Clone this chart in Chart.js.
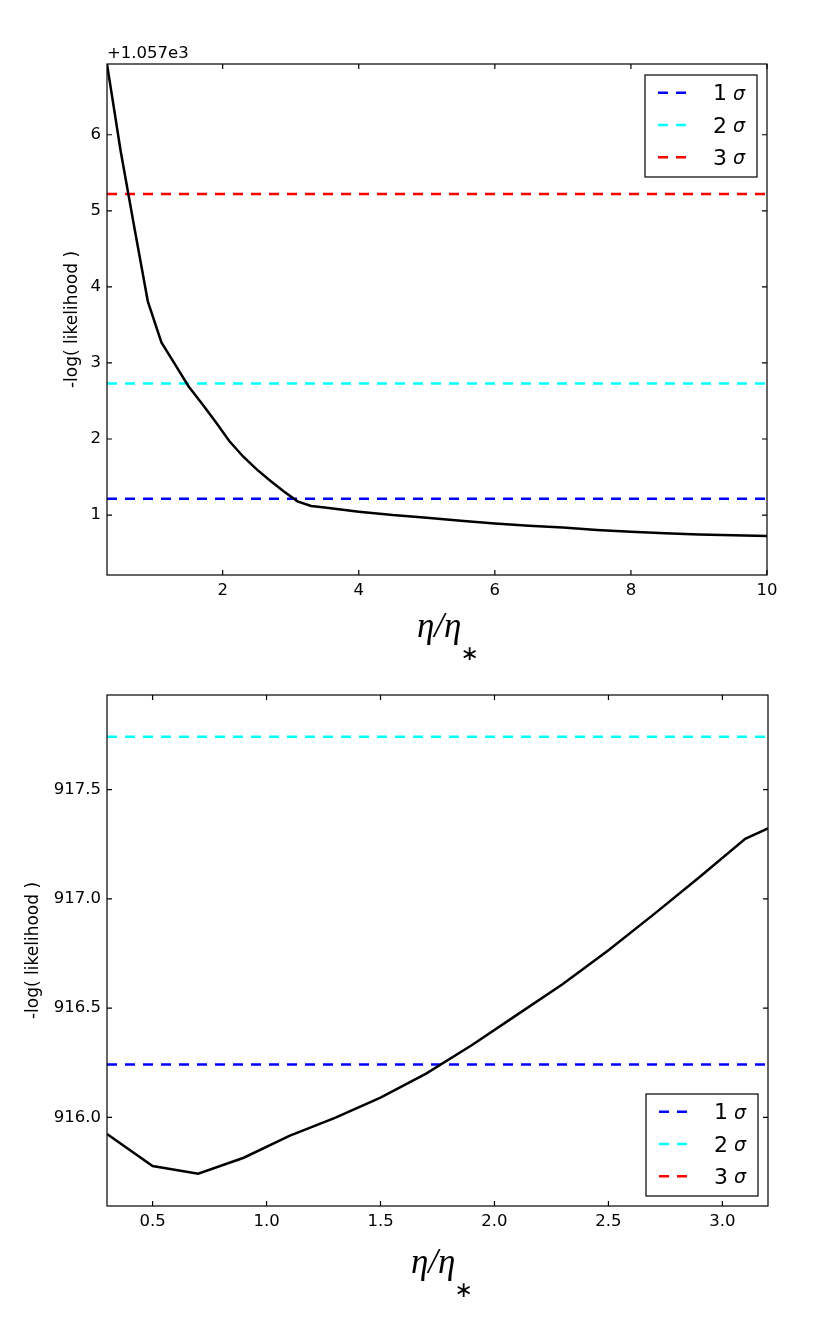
<!DOCTYPE html>
<html>
<head>
<meta charset="utf-8">
<script src="https://cdn.jsdelivr.net/npm/chart.js@4.4.0/dist/chart.umd.min.js"></script>
<style>
  html, body { margin: 0; padding: 0; background: #fff; }
  .wrap { position: absolute; left: 0; width: 830px; height: 660px; }
</style>
</head>
<body>
<div class="wrap" style="top:0px"><canvas id="c1"></canvas></div>
<div class="wrap" style="top:660px"><canvas id="c2"></canvas></div>
<script>
// ---------- data ----------
const topX = [0.3, 0.5, 0.7, 0.9, 1.1, 1.3, 1.5, 1.7, 1.9, 2.1, 2.3, 2.5, 2.7, 2.9, 3.1, 3.3, 3.5, 4.0, 4.5, 5.0, 5.5, 6.0, 6.5, 7.0, 7.5, 8.0, 8.5, 9.0, 9.5, 10.0];
const topY = [6.93, 5.79, 4.79, 3.81, 3.27, 2.98, 2.69, 2.46, 2.22, 1.97, 1.77, 1.60, 1.45, 1.31, 1.18, 1.12, 1.10, 1.045, 1.00, 0.965, 0.925, 0.89, 0.86, 0.835, 0.805, 0.78, 0.76, 0.745, 0.733, 0.725];
const topSigma = [1.215, 2.73, 5.22];
const topXTicks = [2, 4, 6, 8, 10];
const topYTicks = [1, 2, 3, 4, 5, 6];
const topXRange = [0.3, 10];
const topYRange = [0.212, 6.93];
const topOffsetText = '+1.057e3';

const botX = [0.3, 0.5, 0.7, 0.9, 1.1, 1.3, 1.5, 1.7, 1.9, 2.1, 2.3, 2.5, 2.7, 2.9, 3.1, 3.2];
const botY = [915.924, 915.777, 915.742, 915.815, 915.915, 915.997, 916.09, 916.20, 916.33, 916.47, 916.61, 916.765, 916.93, 917.10, 917.275, 917.322];
const botSigma = [916.242, 917.742, 920.242];
const botXTicks = [0.5, 1.0, 1.5, 2.0, 2.5, 3.0];
const botYTicks = [916.0, 916.5, 917.0, 917.5];
const botXRange = [0.3, 3.2];
const botYRange = [915.594, 917.933];

const sigmaNames = ['1', '2', '3'];
const sigmaColors = ['#0000ff', '#00ffff', '#ff0000'];
const yTitle = '-log( likelihood )';

// ---------- drawing ----------
const TICK_FONT = { family: 'DejaVu Sans', size: 16.5 };

function makeDecor(cfg) {
  return {
    id: 'decor',
    afterDatasetsDraw(chart) {
      const { ctx, chartArea: a, scales } = chart;
      const x = scales.x, y = scales.y;
      ctx.save();
      // frame
      ctx.strokeStyle = '#000';
      ctx.lineWidth = 1.2;
      ctx.strokeRect(a.left, a.top, a.right - a.left, a.bottom - a.top);
      // inward ticks on all four sides
      ctx.beginPath();
      cfg.xTicks.forEach(v => {
        const px = x.getPixelForValue(v);
        ctx.moveTo(px, a.bottom); ctx.lineTo(px, a.bottom - 5);
        ctx.moveTo(px, a.top); ctx.lineTo(px, a.top + 5);
      });
      cfg.yTicks.forEach(v => {
        const py = y.getPixelForValue(v);
        ctx.moveTo(a.left, py); ctx.lineTo(a.left + 5, py);
        ctx.moveTo(a.right, py); ctx.lineTo(a.right - 5, py);
      });
      ctx.stroke();

      // legend
      const bw = 112, bh = 102;
      const bx = a.right - 10 - bw;
      const by = cfg.legendTop ? a.top + 11 : a.bottom - 10 - bh;
      ctx.fillStyle = '#fff';
      ctx.fillRect(bx, by, bw, bh);
      ctx.strokeStyle = '#000';
      ctx.lineWidth = 1.2;
      ctx.strokeRect(bx, by, bw, bh);
      sigmaNames.forEach((name, i) => {
        const ry = by + 17.7 + i * 32.3;
        ctx.save();
        ctx.strokeStyle = sigmaColors[i];
        ctx.lineWidth = 2.5;
        ctx.setLineDash([10, 8]);
        ctx.beginPath();
        ctx.moveTo(bx + 13, ry); ctx.lineTo(bx + 41, ry);
        ctx.stroke();
        ctx.restore();
        ctx.fillStyle = '#000';
        ctx.textBaseline = 'alphabetic';
        ctx.textAlign = 'left';
        ctx.font = '22px "DejaVu Sans"';
        ctx.fillText(name, bx + 68, ry + 7.5);
        ctx.font = 'italic 19px "DejaVu Sans"';
        ctx.fillText('σ', bx + 88, ry + 7);
      });

      // y title
      ctx.save();
      ctx.fillStyle = '#000';
      ctx.font = '17px "DejaVu Sans"';
      ctx.textAlign = 'center';
      ctx.textBaseline = 'middle';
      ctx.translate(cfg.yTitleX, (a.top + a.bottom) / 2);
      ctx.rotate(-Math.PI / 2);
      ctx.fillText(yTitle, 0, 0);
      ctx.restore();

      // x title  η/η∗
      ctx.fillStyle = '#000';
      ctx.textAlign = 'left';
      ctx.textBaseline = 'alphabetic';
      ctx.font = 'italic 35px "Liberation Serif"';
      const base = a.bottom + cfg.xTitleGap;
      ctx.fillText('η/η', cfg.xTitleLeft, base);
      const w = ctx.measureText('η/η').width;
      ctx.font = '22px "DejaVu Sans"';
      ctx.textBaseline = 'middle';
      ctx.fillText('∗', cfg.xTitleLeft + w - 1, base + 18);

      // offset text
      if (cfg.offsetText) {
        ctx.font = '16.5px "DejaVu Sans"';
        ctx.textBaseline = 'alphabetic';
        ctx.textAlign = 'left';
        ctx.fillText(cfg.offsetText, a.left, a.top - 6);
      }
      ctx.restore();
    }
  };
}

function makeChart(id, cfg) {
  const pts = cfg.xs.map((v, i) => ({ x: v, y: cfg.ys[i] }));
  const datasets = [{
    data: pts, borderColor: '#000', borderWidth: 2.5, pointRadius: 0,
    tension: 0, fill: false
  }];
  cfg.sigma.forEach((s, i) => {
    datasets.push({
      data: [{ x: cfg.xRange[0], y: s }, { x: cfg.xRange[1], y: s }],
      borderColor: sigmaColors[i], borderWidth: 2.5, borderDash: [10, 8],
      pointRadius: 0, fill: false
    });
  });
  new Chart(document.getElementById(id), {
    type: 'line',
    data: { datasets },
    options: {
      responsive: true,
      maintainAspectRatio: false,
      animation: false,
      events: [],
      layout: { padding: { top: cfg.padTop, right: cfg.padRight, left: 0, bottom: 0 } },
      plugins: { legend: { display: false }, tooltip: { enabled: false } },
      scales: {
        x: {
          type: 'linear', min: cfg.xRange[0], max: cfg.xRange[1],
          afterBuildTicks: s => { s.ticks = cfg.xTicks.map(v => ({ value: v })); },
          afterFit: s => { s.height = cfg.xAxisH; },
          grid: { display: false, drawTicks: false },
          border: { display: false },
          ticks: { font: TICK_FONT, color: '#000', padding: 6, maxRotation: 0, autoSkip: false,
                   callback: v => v.toFixed(cfg.xDec) }
        },
        y: {
          type: 'linear', min: cfg.yRange[0], max: cfg.yRange[1],
          afterBuildTicks: s => { s.ticks = cfg.yTicks.map(v => ({ value: v })); },
          afterFit: s => { s.width = 107; },
          grid: { display: false, drawTicks: false },
          border: { display: false },
          ticks: { font: TICK_FONT, color: '#000', padding: 6, autoSkip: false,
                   callback: v => v.toFixed(cfg.yDec) }
        }
      }
    },
    plugins: [makeDecor(cfg)]
  });
}

makeChart('c1', {
  xs: topX, ys: topY, sigma: topSigma, xTicks: topXTicks, yTicks: topYTicks,
  xRange: topXRange, yRange: topYRange, xDec: 0, yDec: 0,
  padTop: 64, padRight: 63, xAxisH: 85, legendTop: true,
  yTitleX: 73, xTitleLeft: 417, xTitleGap: 62, offsetText: topOffsetText
});
makeChart('c2', {
  xs: botX, ys: botY, sigma: botSigma, xTicks: botXTicks, yTicks: botYTicks,
  xRange: botXRange, yRange: botYRange, xDec: 1, yDec: 1,
  padTop: 35, padRight: 62, xAxisH: 114, legendTop: false,
  yTitleX: 34, xTitleLeft: 411, xTitleGap: 67, offsetText: null
});
</script>
</body>
</html>
